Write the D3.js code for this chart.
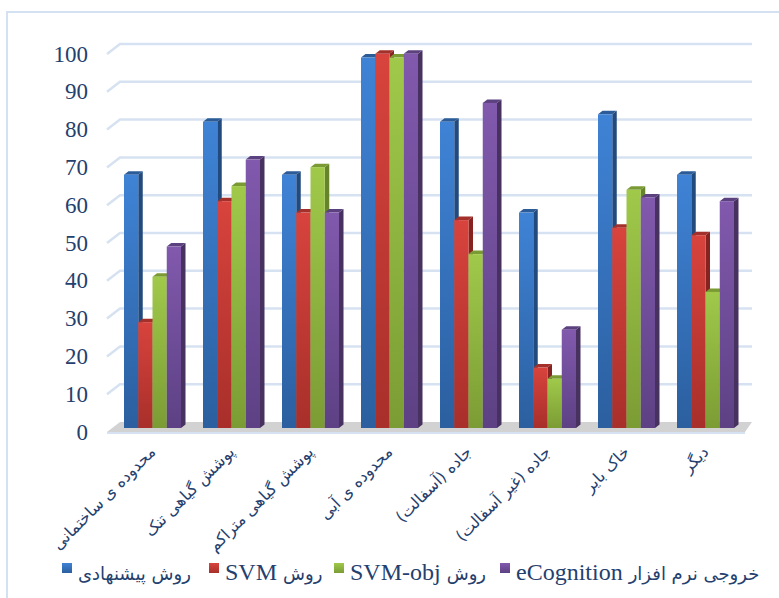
<!DOCTYPE html>
<html>
<head>
<meta charset="utf-8">
<script src="https://cdn.jsdelivr.net/npm/d3@7"></script>
<style>
  html, body { margin: 0; padding: 0; background: #ffffff; }
  svg { display: block; }
</style>
</head>
<body>
<svg id="chart" width="779" height="598"></svg>
<script>
// ---- data ----
const categories = ["محدوده ی ساختمانی", "پوشش گیاهی تنک", "پوشش گیاهی متراکم", "محدوده ی آبی",
                    "جاده (آسفالت)", "جاده (غیر آسفالت)", "خاک بایر", "دیگر"];
const seriesNames = ["proposed", "svm", "svmobj", "ecog"];
const proposed = [67, 81, 67, 98, 81, 57, 83, 67];
const svm      = [28, 60, 57, 99, 55, 16, 53, 51];
const svmObj   = [40, 64, 69, 98, 46, 13, 63, 36];
const eCog     = [48, 71, 57, 99, 86, 26, 61, 60];
const yTicks = [0, 10, 20, 30, 40, 50, 60, 70, 80, 90, 100];
const legendPersian = ["روش پیشنهادی", "روش", "روش", "خروجی نرم افزار"];
const legendLatin   = ["", "SVM", "SVM-obj", "eCognition"];

const seriesValues = [proposed, svm, svmObj, eCog];
const colors = [
  {top: "#3f83d6", bottom: "#2b5f9f", side: "#234a7c", cap: "#2c5c98"},
  {top: "#d8433d", bottom: "#a82f2a", side: "#86221f", cap: "#a3302b"},
  {top: "#a0c94a", bottom: "#7b9c34", side: "#66852b", cap: "#7a9b34"},
  {top: "#8159ad", bottom: "#5d4184", side: "#47315f", cap: "#5c4180"}
];
const textColor = "#24406e";

const svg = d3.select("#chart");
const defs = svg.append("defs");
colors.forEach((c, i) => {
  const g = defs.append("linearGradient").attr("id", "grad" + i)
    .attr("x1", 0).attr("y1", 0).attr("x2", 0).attr("y2", 1);
  g.append("stop").attr("offset", "0%").attr("stop-color", c.top);
  g.append("stop").attr("offset", "100%").attr("stop-color", c.bottom);
});

// outer border
svg.append("rect").attr("x", 7).attr("y", 12).attr("width", 790).attr("height", 620)
  .attr("fill", "none").attr("stroke", "#d3e1f2").attr("stroke-width", 2);

// scales
const x = d3.scaleBand().domain(categories).range([113, 745])
  .paddingInner(22 / 79).paddingOuter(11 / 79);
const xs = d3.scaleBand().domain(seriesNames).range([0, x.bandwidth()]);
const y = d3.scaleLinear().domain([0, 100]).range([428, 50]);

const frontDy = 4, backDy = -6;
const frontX = 107, backX = 120, backRight = 752;
const depthDx = 4.5, depthDy = -3.5;

// gridlines (3D wall)
const grid = svg.append("g");
yTicks.filter(t => t > 0).forEach(t => {
  grid.append("path")
    .attr("d", `M${frontX},${y(t) + frontDy}L${backX},${y(t) + backDy}L${backRight},${y(t) + backDy}`)
    .attr("fill", "none").attr("stroke", "#d6e2f1").attr("stroke-width", 2.5);
});

// floor
svg.append("path")
  .attr("d", `M${frontX},${y(0) + frontDy}L${backX},${y(0) + backDy}L${backRight},${y(0) + backDy}L${745},${y(0) + frontDy}Z`)
  .attr("fill", "#d2d2d2");
svg.append("line").attr("x1", frontX).attr("x2", 745)
  .attr("y1", y(0) + frontDy + 1).attr("y2", y(0) + frontDy + 1)
  .attr("stroke", "#d6e2f1").attr("stroke-width", 2);

// y axis labels
svg.append("g").selectAll("text").data(yTicks).join("text")
  .attr("x", 88).attr("y", d => y(d) + frontDy)
  .attr("text-anchor", "end").attr("dominant-baseline", "central")
  .attr("font-family", "'Liberation Serif', 'Times New Roman', serif")
  .attr("font-size", 23).attr("fill", textColor)
  .text(d => d);

// bars
const bars = [];
categories.forEach((c, ci) => {
  seriesValues.forEach((vals, si) => {
    bars.push({cat: c, s: seriesNames[si], si, v: vals[ci]});
  });
});
const bg = svg.append("g");
const barSel = bg.selectAll("g").data(bars).join("g");
barSel.each(function(d) {
  const g = d3.select(this);
  const x0 = x(d.cat) + xs(d.s), w = xs.bandwidth();
  const yt = y(d.v), yb = y(0);
  const col = colors[d.si];
  g.append("path")
    .attr("d", `M${x0 + w},${yt}L${x0 + w + depthDx},${yt + depthDy}L${x0 + w + depthDx},${yb + depthDy}L${x0 + w},${yb}Z`)
    .attr("fill", col.side);
  g.append("path")
    .attr("d", `M${x0},${yt}L${x0 + depthDx},${yt + depthDy}L${x0 + w + depthDx},${yt + depthDy}L${x0 + w},${yt}Z`)
    .attr("fill", col.cap);
  g.append("rect").attr("x", x0).attr("y", yt).attr("width", w).attr("height", yb - yt)
    .attr("fill", `url(#grad${d.si})`);
});

// x axis labels (rotated)
svg.append("g").selectAll("text").data(categories).join("text")
  .attr("transform", d => `translate(${x(d) + x.bandwidth() / 2 + 4},${453}) rotate(-45)`)
  .attr("direction", "rtl")
  .attr("text-anchor", "start")
  .attr("font-family", "'DejaVu Sans', sans-serif")
  .attr("font-size", 16).attr("fill", textColor)
  .text(d => d);

// legend
const legendX = [62, 209, 334, 500];
const lg = svg.append("g");
legendPersian.forEach((p, i) => {
  const sx = legendX[i];
  lg.append("rect").attr("x", sx).attr("y", 563).attr("width", 10).attr("height", 10)
    .attr("fill", `url(#grad${i})`);
  let cx = sx + 16;
  if (legendLatin[i]) {
    const t = lg.append("text").attr("x", cx).attr("y", 580)
      .attr("font-family", "'Liberation Serif', 'Times New Roman', serif")
      .attr("font-size", 24).attr("fill", textColor).text(legendLatin[i]);
    cx += t.node().getComputedTextLength() + 6;
  }
  lg.append("text").attr("x", cx).attr("y", 580)
    .attr("direction", "ltr")
    .attr("font-family", "'DejaVu Sans', sans-serif")
    .attr("font-size", 18).attr("fill", textColor).text(p);
});
</script>
</body>
</html>
